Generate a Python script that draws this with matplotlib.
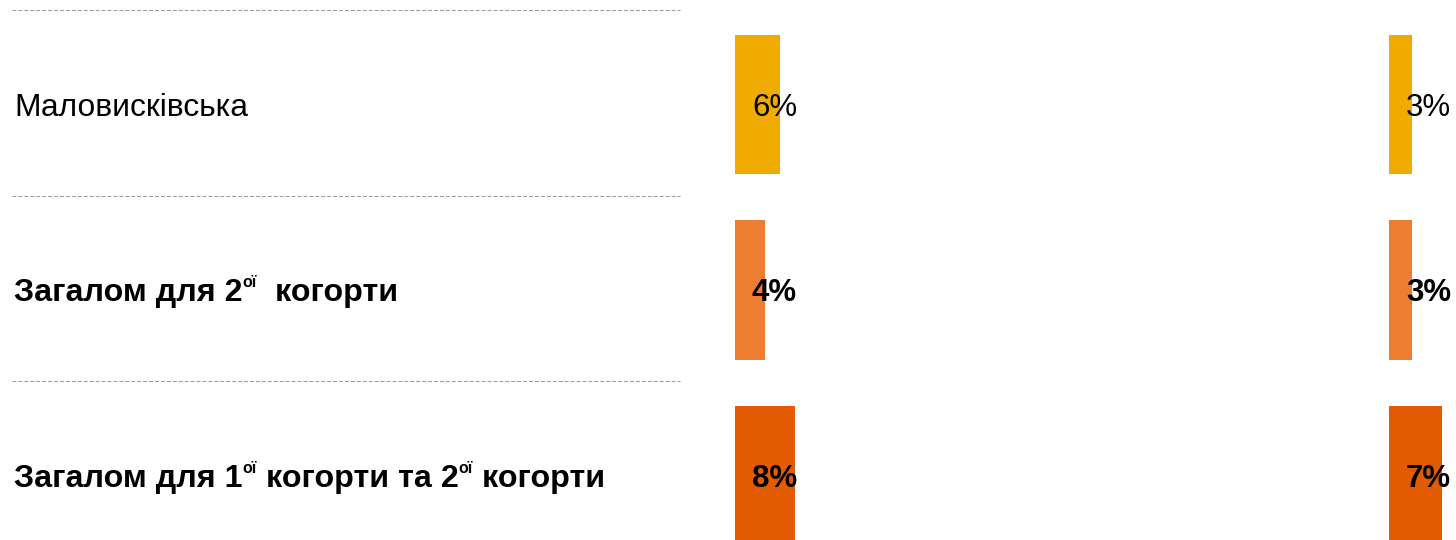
import re
import matplotlib.pyplot as plt
from matplotlib.transforms import offset_copy

##### data #####

# row labels, {..} marks a superscript part
categories = ['Маловисківська',
              'Загалом для 2{ої}  когорти',
              'Загалом для 1{ої} когорти та 2{ої} когорти']
bold_rows = [False, True, True]

# shares (%) for the two bar columns
share_first = [6, 4, 8]
share_second = [3, 3, 7]
colors = ['#F0AB00', '#ED7D31', '#E35B00']

##### layout #####

W, H = 1456, 540
plt.rcParams['font.family'] = ['Liberation Sans', 'DejaVu Sans']
fig = plt.figure(figsize=(W / 100, H / 100), dpi=100)
renderer = fig.canvas.get_renderer()

ylim = (2.3477, -0.5634)     # row units, row 0 at the top
px_per_pct = 7.5
fs, fs_sup = 22.5, 11.5

# background axes in pixel units along x, for labels and separators
ax0 = fig.add_axes([0, 0, 1, 1])
ax0.set_xlim(0, W)
ax0.set_ylim(*ylim)
ax0.axis('off')
sep = offset_copy(ax0.transData, fig, x=0, y=1.5, units='dots')
ax0.hlines([-0.5, 0.5, 1.5], 12, 680, colors='#9c9c9c',
           linestyles=(0, (3.8, 1.9)), linewidth=0.75, transform=sep)


def draw_label(x, row, text, weight):
    size = 23.2 if weight == 'bold' else 22.9
    base = offset_copy(ax0.transData, fig, x=0, y=-11, units='dots')
    sup = offset_copy(ax0.transData, fig, x=0, y=3, units='dots')
    for k, part in enumerate(re.split(r'\{(.*?)\}', text)):
        if not part:
            continue
        is_sup = k % 2 == 1
        t = ax0.text(x, row, part, fontsize=fs_sup if is_sup else size,
                     fontweight=weight, va='baseline', ha='left',
                     transform=sup if is_sup else base)
        x += t.get_window_extent(renderer).width


for i, (cat, bold) in enumerate(zip(categories, bold_rows)):
    draw_label(14, i, cat, 'bold' if bold else 'normal')

# two bar columns
for left, width, vals in [(735, 110, share_first), (1389, 67, share_second)]:
    ax = fig.add_axes([left / W, 0, width / W, 1])
    ax.set_xlim(0, width / px_per_pct)
    ax.set_ylim(*ylim)
    ax.axis('off')
    ax.barh(range(len(vals)), vals, height=0.75, color=colors)
    for i, v in enumerate(vals):
        ax.annotate(f'{v}%', (0, i), xytext=(17, -11), textcoords='offset pixels',
                    fontsize=fs, fontweight='bold' if bold_rows[i] else 'normal',
                    va='baseline', ha='left', annotation_clip=False)

plt.savefig('out.png', dpi=100)
